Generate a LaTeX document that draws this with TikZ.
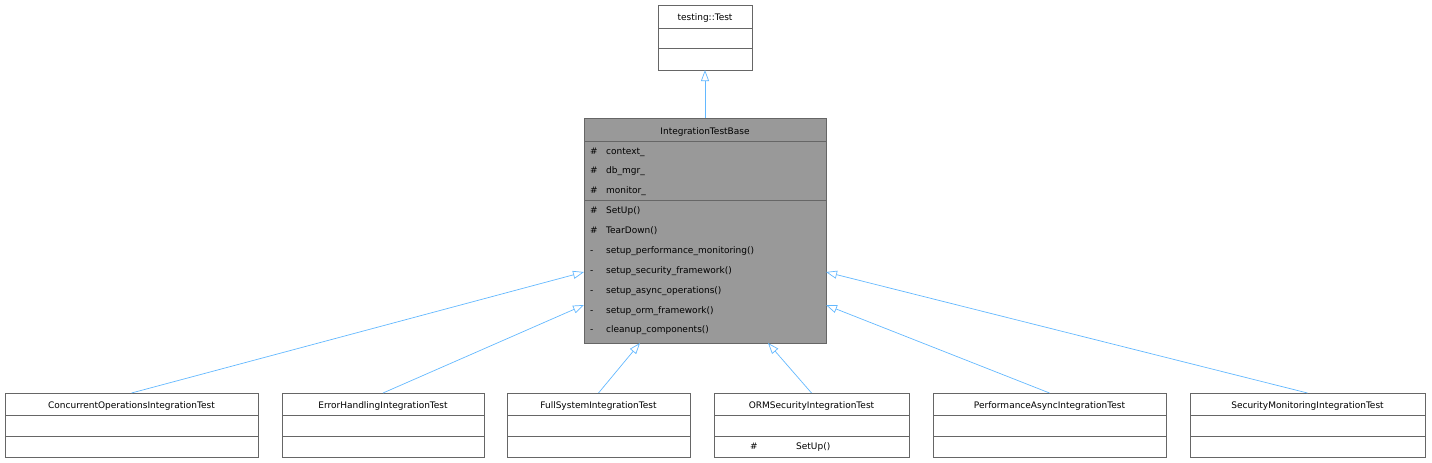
\documentclass[tikz,border=0pt]{standalone}
\usepackage{fontspec}
\setmainfont{DejaVu Sans}
\usetikzlibrary{arrows.meta}
\definecolor{edge}{HTML}{63B8FF}
\definecolor{boxline}{HTML}{666666}
\begin{document}
\begin{tikzpicture}[x=1pt,y=-1pt,
  box/.style={draw=boxline,line width=0.8pt},
  t/.style={font=\fontsize{9}{10}\selectfont,inner sep=0pt,anchor=base},
  m/.style={font=\fontsize{9}{10}\selectfont,inner sep=0pt,anchor=base west},
  inh/.style={draw=edge,line width=0.7pt,-{Triangle[open,width=8pt,length=11pt,fill=white]}}]
\useasboundingbox (0,0) rectangle (1432,463);
% testing::Test
\draw[box,fill=white] (658,5) rectangle (752,70);
\draw[box] (658,28)--(752,28) (658,48)--(752,48);
\node[t] (test) at (705,20) {testing::Test};
\coordinate (testB) at (705,70);
% base
\draw[box,fill=black!40] (584,118) rectangle (826,343);
\draw[box] (584,141)--(826,141) (584,200)--(826,200);
\node[t] (base) at (705,134) {IntegrationTestBase};
\coordinate (baseT) at (705,118);
\foreach \y/\s/\n in {154/\#/context\_,173/\#/db\_mgr\_,193/\#/monitor\_,
  213/\#/SetUp(),233/\#/TearDown(),253/-/setup\_performance\_monitoring(),
  273/-/setup\_security\_framework(),293/-/setup\_async\_operations(),
  313/-/setup\_orm\_framework(),332/-/cleanup\_components()}{
  \node[m] at (590,\y) {\s};
  \node[m] at (606,\y) {\n};
}
\coordinate (b1) at (584,272);
\coordinate (b2) at (584,305);
\coordinate (b3) at (640,343);
\coordinate (b4) at (768,343);
\coordinate (b5) at (826,305);
\coordinate (b6) at (826,272);
% children
\foreach \i/\xa/\xb/\name in {1/5/258/ConcurrentOperationsIntegrationTest,
  2/282/484/ErrorHandlingIntegrationTest,3/507/690/FullSystemIntegrationTest,
  4/714/909/ORMSecurityIntegrationTest,5/933/1166/PerformanceAsyncIntegrationTest,
  6/1190/1425/SecurityMonitoringIntegrationTest}{
  \draw[box,fill=white] (\xa,393) rectangle (\xb,457);
  \draw[box] (\xa,415)--(\xb,415) (\xa,436)--(\xb,436);
  \node[t] (c\i) at ({(\xa+\xb)/2},408) {\name};
  \coordinate (c\i T) at ({(\xa+\xb)/2},393);
}
\node[m] at (750,449) {\#};
\node[m] at (796,449) {SetUp()};
% edges
\draw[inh] (baseT) -- (testB);
\foreach \i in {1,...,6}{\draw[inh] (c\i T) -- (b\i);}
\end{tikzpicture}
\end{document}
